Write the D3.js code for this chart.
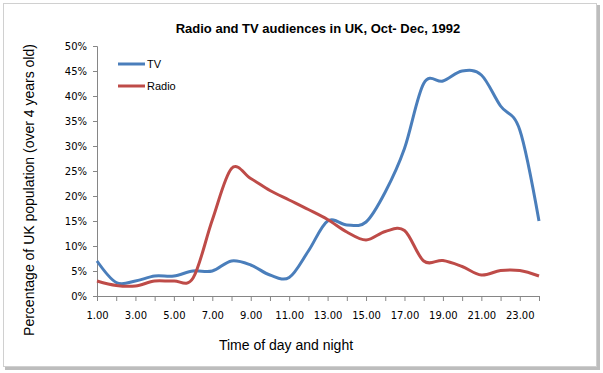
<!DOCTYPE html>
<html lang="en">
<head>
  <meta charset="utf-8" />
  <title>Radio and TV audiences in UK</title>
  <script src="https://cdn.jsdelivr.net/npm/d3@7"></script>
  <style>
body{ margin:0; background:#fff; }
svg text{ fill:#000; }
  </style>
</head>
<body>
  <svg id="chart"></svg>
  <script>
  // hour of day (1.00 .. 24.00)
  const hours = [1,2,3,4,5,6,7,8,9,10,11,12,13,14,15,16,17,18,19,20,21,22,23,24];
  // percent of UK population (over 4 years old)
  const tv    = [7,2.7,3,4,4,5,5,7,6.2,4.2,3.7,9,15,14.2,14.8,20.8,29.5,42.5,43,45,44.2,38,33.2,15];
  const radio = [3,2.1,2,3,3,3.6,15.2,25.5,23.5,21.1,19.2,17.3,15.3,12.8,11.2,12.9,13.1,7,7.1,5.9,4.2,5.1,5.1,4];
  const yTicks = [0,5,10,15,20,25,30,35,40,45,50];
  const xLabels = [1,3,5,7,9,11,13,15,17,19,21,23];

  const series = [
    {name: 'TV', values: tv, color: '#4a7ebb'},
    {name: 'Radio', values: radio, color: '#be4b48'}
  ];

  const width = 603, height = 373;
  const svg = d3.select('#chart').attr('width', width).attr('height', height);

  // chart frame with a soft shadow
  svg.append('rect').attr('x', 5).attr('y', 5).attr('width', 595).attr('height', 365)
      .attr('fill', '#bdbdbd');
  svg.append('rect').attr('x', 3.5).attr('y', 3.5).attr('width', 593).attr('height', 363)
      .attr('fill', '#fff').attr('stroke', '#d0d0d0');

  const x = d3.scaleLinear().domain([1, 24]).range([97, 539]);
  const y = d3.scaleLinear().domain([0, 50]).range([296, 46]);

  const axisColor = '#868686';

  // y axis
  const yAxis = svg.append('g')
      .attr('transform', 'translate(97,0)')
      .call(d3.axisLeft(y).tickValues(yTicks).tickSize(4).tickPadding(6).tickFormat(d => d + '%'));
  yAxis.select('.domain').attr('stroke', axisColor);
  yAxis.selectAll('.tick line').attr('stroke', axisColor);
  yAxis.selectAll('text').attr('font-family', 'DejaVu Sans').attr('font-size', 10);

  // x axis: tick at every hour, label every second one
  const xAxis = svg.append('g')
      .attr('transform', 'translate(0,296)')
      .call(d3.axisBottom(x).tickValues(hours).tickSize(5).tickPadding(11)
        .tickFormat(d => xLabels.includes(d) ? d.toFixed(2) : ''));
  xAxis.select('.domain').attr('stroke', axisColor);
  xAxis.selectAll('.tick line').attr('stroke', axisColor);
  xAxis.selectAll('text').attr('font-family', 'DejaVu Sans').attr('font-size', 10);

  const line = d3.line()
      .x((d, i) => x(hours[i]))
      .y(d => y(d))
      .curve(d3.curveCardinal.tension(0));

  svg.append('g').selectAll('path')
    .data(series)
    .enter().append('path')
      .attr('d', d => line(d.values))
      .attr('fill', 'none')
      .attr('stroke', d => d.color)
      .attr('stroke-width', 3)
      .attr('stroke-linejoin', 'round');

  // legend
  const legend = svg.append('g').selectAll('g')
    .data(series)
    .enter().append('g')
      .attr('transform', (d, i) => `translate(118,${64 + i * 22})`);
  legend.append('line')
      .attr('x1', 0).attr('x2', 27)
      .attr('stroke', d => d.color).attr('stroke-width', 3);
  legend.append('text')
      .attr('x', 29).attr('dy', '0.35em')
      .attr('font-family', 'Liberation Sans, Arial, sans-serif').attr('font-size', 11)
      .text(d => d.name);

  // titles
  svg.append('text')
      .attr('x', 318).attr('y', 33)
      .attr('text-anchor', 'middle')
      .attr('font-family', 'Liberation Sans, Arial, sans-serif')
      .attr('font-size', 13).attr('font-weight', 'bold')
      .text('Radio and TV audiences in UK, Oct- Dec, 1992');

  svg.append('text')
      .attr('x', 286).attr('y', 350)
      .attr('text-anchor', 'middle')
      .attr('font-family', 'Liberation Sans, Arial, sans-serif')
      .attr('font-size', 14)
      .text('Time of day and night');

  svg.append('text')
      .attr('transform', 'translate(34,190) rotate(-90)')
      .attr('text-anchor', 'middle')
      .attr('font-family', 'Liberation Sans, Arial, sans-serif')
      .attr('font-size', 14)
      .text('Percentage of UK population (over 4 years old)');
  </script>
</body>
</html>
